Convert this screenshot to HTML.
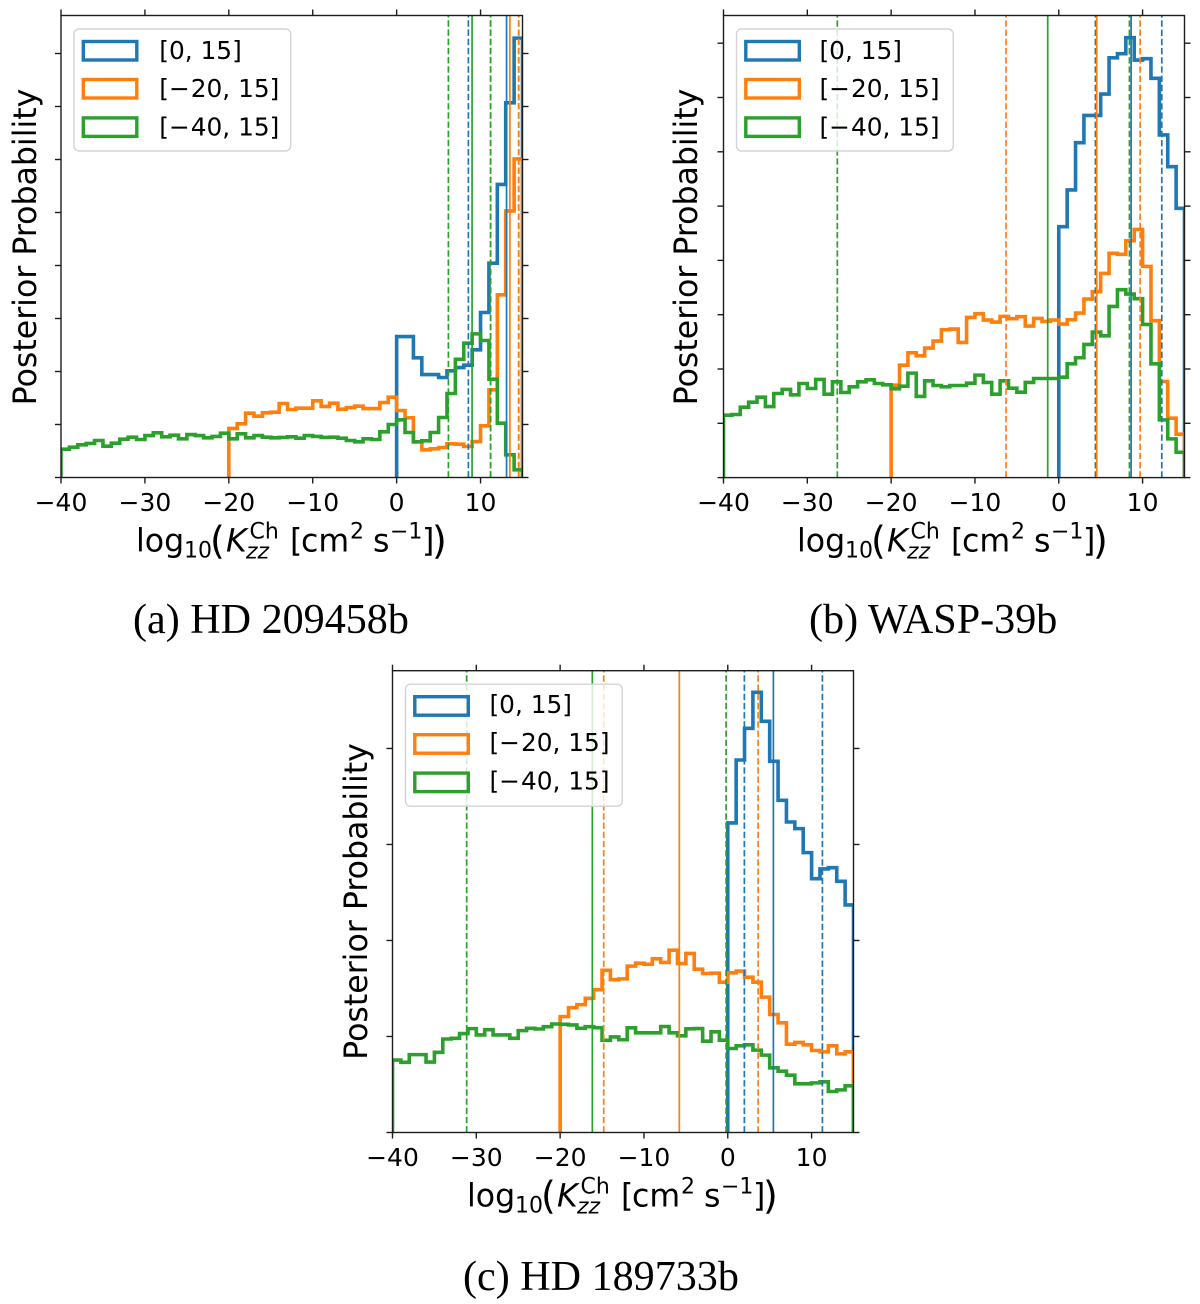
<!DOCTYPE html>
<html lang="en">
<head>
<meta charset="utf-8">
<title>Posterior probability of log10 Kzz for three exoplanets</title>
<style>
  html, body { margin: 0; padding: 0; background: #fff; }
  svg { display: block; }
  .tick-label, .legend-label, .axis-text { font-family: "DejaVu Sans", "Liberation Sans", sans-serif; fill: #000; }
  .tick-label { font-size: 25px; }
  .legend-label { font-size: 24.8px; }
  .axis-text { font-size: 31.6px; }
  .axis-small { font-size: 22px; }
  .axis-tall { font-size: 38px; font-weight: 400; }
  .caption { font-family: "Liberation Serif", serif; font-size: 42.1px; fill: #000; }
  .legend-box { fill: #fff; fill-opacity: 0.8; stroke: #d4d4d4; stroke-width: 1.4; }
  .legend-patch { fill: none; stroke-width: 3.4; }
</style>
</head>
<body>
<svg xmlns="http://www.w3.org/2000/svg" width="1200" height="1304" viewBox="0 0 1200 1304">
  <rect width="1200" height="1304" fill="#fff"/>

  <g>
    <g id="marks-a"></g>
    <text class="axis-text" transform="translate(36,247) rotate(-90)" text-anchor="middle">Posterior Probability</text>
    <g transform="translate(61,477.5)">
      <text class="axis-text" x="75" y="74">log</text><text class="axis-text axis-small" x="123" y="80">10</text><text class="axis-text axis-tall" x="149" y="76">(</text><text class="axis-text" x="165" y="74" font-style="italic">K</text><text class="axis-text axis-small" x="188.5" y="61">Ch</text><text class="axis-text axis-small" x="185" y="81" font-style="italic">zz</text><text class="axis-text" x="229" y="74">[</text><text class="axis-text" x="240" y="74">cm</text><text class="axis-text axis-small" x="289" y="61">2</text><text class="axis-text" x="312" y="74">s</text><text class="axis-text axis-small" x="329" y="61">−1</text><text class="axis-text" x="361" y="74">]</text><text class="axis-text axis-tall" x="371" y="76">)</text>
    </g>
    <g transform="translate(61,15.5)">
      <rect class="legend-box" x="13" y="13.5" width="216.7" height="122" rx="5"/>
      <rect class="legend-patch" x="22.3" y="26" width="53.5" height="18.5" stroke="#1f77b4"/>
      <text class="legend-label" x="98.3" y="43.3">[0, 15]</text>
      <rect class="legend-patch" x="22.3" y="64" width="53.5" height="18.5" stroke="#ff7f0e"/>
      <text class="legend-label" x="98.3" y="81.3">[−<tspan dx="1">20, 15]</tspan></text>
      <rect class="legend-patch" x="22.3" y="102.4" width="53.5" height="18.5" stroke="#2ca02c"/>
      <text class="legend-label" x="98.3" y="119.8">[−<tspan dx="1">40, 15]</tspan></text>
    </g>
    <text class="caption" x="133" y="633">(a) HD 209458b</text>
  </g>

  <g>
    <g id="marks-b"></g>
    <text class="axis-text" transform="translate(697,247) rotate(-90)" text-anchor="middle">Posterior Probability</text>
    <g transform="translate(722,477.5)">
      <text class="axis-text" x="75" y="74">log</text><text class="axis-text axis-small" x="123" y="80">10</text><text class="axis-text axis-tall" x="149" y="76">(</text><text class="axis-text" x="165" y="74" font-style="italic">K</text><text class="axis-text axis-small" x="188.5" y="61">Ch</text><text class="axis-text axis-small" x="185" y="81" font-style="italic">zz</text><text class="axis-text" x="229" y="74">[</text><text class="axis-text" x="240" y="74">cm</text><text class="axis-text axis-small" x="289" y="61">2</text><text class="axis-text" x="312" y="74">s</text><text class="axis-text axis-small" x="329" y="61">−1</text><text class="axis-text" x="361" y="74">]</text><text class="axis-text axis-tall" x="371" y="76">)</text>
    </g>
    <g transform="translate(723.5,15.5)">
      <rect class="legend-box" x="13" y="13.5" width="216.7" height="122" rx="5"/>
      <rect class="legend-patch" x="22.3" y="26" width="53.5" height="18.5" stroke="#1f77b4"/>
      <text class="legend-label" x="96" y="43.3">[0, 15]</text>
      <rect class="legend-patch" x="22.3" y="64" width="53.5" height="18.5" stroke="#ff7f0e"/>
      <text class="legend-label" x="96" y="81.3">[−<tspan dx="1">20, 15]</tspan></text>
      <rect class="legend-patch" x="22.3" y="102.4" width="53.5" height="18.5" stroke="#2ca02c"/>
      <text class="legend-label" x="96" y="119.8">[−<tspan dx="1">40, 15]</tspan></text>
    </g>
    <text class="caption" x="809" y="633">(b) WASP-39b</text>
  </g>

  <g>
    <g id="marks-c"></g>
    <text class="axis-text" transform="translate(367,901.5) rotate(-90)" text-anchor="middle">Posterior Probability</text>
    <g transform="translate(392,1132.5)">
      <text class="axis-text" x="75" y="74">log</text><text class="axis-text axis-small" x="123" y="80">10</text><text class="axis-text axis-tall" x="149" y="76">(</text><text class="axis-text" x="165" y="74" font-style="italic">K</text><text class="axis-text axis-small" x="188.5" y="61">Ch</text><text class="axis-text axis-small" x="185" y="81" font-style="italic">zz</text><text class="axis-text" x="229" y="74">[</text><text class="axis-text" x="240" y="74">cm</text><text class="axis-text axis-small" x="289" y="61">2</text><text class="axis-text" x="312" y="74">s</text><text class="axis-text axis-small" x="329" y="61">−1</text><text class="axis-text" x="361" y="74">]</text><text class="axis-text axis-tall" x="371" y="76">)</text>
    </g>
    <g transform="translate(392.5,670.7)">
      <rect class="legend-box" x="13" y="13.5" width="216.7" height="122" rx="5"/>
      <rect class="legend-patch" x="22.3" y="26" width="53.5" height="18.5" stroke="#1f77b4"/>
      <text class="legend-label" x="97" y="42.3">[0, 15]</text>
      <rect class="legend-patch" x="22.3" y="64" width="53.5" height="18.5" stroke="#ff7f0e"/>
      <text class="legend-label" x="97" y="80.3">[−<tspan dx="1">20, 15]</tspan></text>
      <rect class="legend-patch" x="22.3" y="102.4" width="53.5" height="18.5" stroke="#2ca02c"/>
      <text class="legend-label" x="97" y="118.8">[−<tspan dx="1">40, 15]</tspan></text>
    </g>
    <text class="caption" x="463" y="1290">(c) HD 189733b</text>
  </g>
</svg>

<script>
// X axis ticks, shared by all panels
const xTickValues = [-40, -30, -20, -10, 0, 10];
const xTickLabels = ["−40", "−30", "−20", "−10", "0", "10"];

// First bin edge of each prior range (bins are one dex wide)
const blueStart = 0;
const orangeStart = -20;
const greenStart = -40;

// Panel A: HD 209458b
const aBlue = [26.6,26.6,22.58,19.43,19.43,18.87,20.13,20.75,21.2,24.09,31.13,40.44,55.3,70.7,82.9];
const aOrange = [9.25,10.13,12.14,11.57,12.2,12.33,13.96,12.83,13.08,13.08,
  14.47,13.4,14.03,12.89,13.2,13.46,13.0,13.0,14.15,15.16,
  12.64,11.26,6.73,5.22,5.41,5.66,6.35,6.29,5.85,6.79,
  9.75,16.54,34.47,50.3,60.1];
const aGreen = [5.35,5.72,6.16,6.42,6.98,5.91,6.48,7.23,7.61,7.17,
  7.92,8.43,7.67,7.99,7.3,8.11,7.92,7.48,7.74,8.36,
  7.3,8.24,7.48,7.92,7.61,7.48,7.55,7.67,7.42,7.92,
  7.74,7.55,7.6,7.42,6.98,6.73,7.3,7.17,8.62,10.0,
  10.88,8.49,6.73,6.92,8.49,11.32,15.85,22.3,25.35,27.1,
  25.85,18.55,10.25,4.28,1.45];
// Quantile markers: [lower dashed, median solid, upper dashed]
const aBlueLines = [8.55, 13.1, 14.55];
const aOrangeLines = [11.2, 13.5, 14.55];
const aGreenLines = [6.17, 8.99, 11.2];
const aYTicks = [0, 10, 20, 30, 40, 50, 60, 70, 80];

// Panel B: WASP-39b
const bBlue = [46.2,52.97,61.68,66.7,66.7,70.63,77.3,78.07,81.02,76.9,77.15,73.53,63.1,57.26,49.59];
const bOrange = [17.02,20.71,22.99,22.43,23.85,25.14,27.23,27.35,24.89,29.5,
  30.18,29.01,28.64,29.69,29.26,29.63,27.9,29.32,28.76,29.01,
  28.27,29.07,30.3,32.88,34.23,37.61,41.3,41.12,43.6,45.7,
  38.9,28.89,17.7,10.94,7.99];
const bGreen = [11.49,11.62,12.97,13.89,14.81,13.09,15.49,16.23,15.24,17.33,
  16.41,18.07,15.37,17.64,15.67,16.72,17.64,18.01,17.33,17.09,
  16.35,16.84,19.24,14.94,17.82,16.96,16.72,16.96,16.96,17.39,
  18.87,17.52,15.37,17.82,16.47,15.73,17.52,18.25,18.25,18.25,
  18.5,20.96,22.07,24.52,26.8,26.12,31.53,34.6,33.8,32.94,
  28.21,20.96,10.63,7.13,4.67];
const bBlueLines = [4.37, 8.63, 12.29];
const bOrangeLines = [-6.29, 4.53, 9.71];
const bGreenLines = [-26.42, -1.32, 8.43];
const bYTicks = [0, 10, 20, 30, 40, 50, 60, 70, 80];

// Panel C: HD 189733b
const cBlue = [32.24,38.8,42.1,45.85,42.83,38.66,34.6,32.34,31.65,29.15,26.44,27.45,27.58,26.16,23.7];
const cOrange = [12.07,13.0,13.32,13.98,14.88,16.89,15.92,16.0,17.33,17.64,
  17.53,18.09,17.71,18.99,17.6,18.65,17.01,16.56,16.6,15.66,
  16.63,16.81,16.18,15.66,14.1,12.29,11.42,9.2,9.38,9.13,
  8.54,8.4,9.03,8.19,8.4];
const cGreen = [7.55,7.31,8.11,8.11,7.34,8.35,9.74,9.81,10.3,10.82,
  10.16,10.71,10.16,10.16,9.81,10.61,10.85,10.78,11.02,11.3,
  11.27,11.2,10.85,11.02,10.92,9.6,9.95,9.66,10.9,10.38,
  10.38,10.38,11.04,10.38,10.07,10.8,10.83,9.51,10.49,9.62,
  8.75,9.03,9.13,8.58,8.06,6.74,6.39,5.97,5.07,5.07,
  5.17,5.28,4.27,4.44,4.86];
const cBlueLines = [1.98, 5.44, 11.29];
const cOrangeLines = [-14.8, -5.78, 3.62];
const cGreenLines = [-31.15, -16.16, -0.2];
const cYTicks = [0, 10, 20, 30, 40];

const SVG_NS = "http://www.w3.org/2000/svg";
const BLUE = "#1f77b4";
const ORANGE = "#ff7f0e";
const GREEN = "#2ca02c";
const X_MIN = -40;
const X_MAX = 15;
const SPINE_COLOR = "#1c1c1c";

function svgEl(tag, parent) {
  const el = document.createElementNS(SVG_NS, tag);
  parent.appendChild(el);
  return el;
}

function drawPanel(key, box, yMax, series, yTicks) {
  const root = document.getElementById("marks-" + key);
  const xScale = function (v) { return box.left + (v - X_MIN) / (X_MAX - X_MIN) * (box.right - box.left); };
  const yScale = function (v) { return box.bottom - v / yMax * (box.bottom - box.top); };

  const defs = svgEl("defs", root);
  const clip = svgEl("clipPath", defs);
  clip.setAttribute("id", "clip-" + key);
  const clipRect = svgEl("rect", clip);
  clipRect.setAttribute("x", box.left);
  clipRect.setAttribute("y", box.top);
  clipRect.setAttribute("width", box.right - box.left);
  clipRect.setAttribute("height", box.bottom - box.top);

  const plot = svgEl("g", root);
  plot.setAttribute("clip-path", "url(#clip-" + key + ")");
  
  

  series.forEach(function (s) {
    let d = "M" + xScale(s.start) + " " + box.bottom;
    s.values.forEach(function (v, i) {
      d += "L" + xScale(s.start + i) + " " + yScale(v);
      d += "L" + xScale(s.start + i + 1) + " " + yScale(v);
    });
    d += "L" + xScale(s.start + s.values.length) + " " + box.bottom;
    const hist = svgEl("path", plot);
    hist.setAttribute("d", d);
    hist.setAttribute("fill", "none");
    hist.setAttribute("stroke", s.color);
    hist.setAttribute("stroke-width", "3.6");
    hist.setAttribute("stroke-linejoin", "miter");
    
    
  });

  series.forEach(function (s) {
    s.lines.forEach(function (v, i) {
      const line = svgEl("line", plot);
      line.setAttribute("x1", xScale(v));
      line.setAttribute("x2", xScale(v));
      line.setAttribute("y1", box.bottom);
      line.setAttribute("y2", box.top);
      line.setAttribute("stroke", s.color);
      line.setAttribute("stroke-width", "1.7");
      if (i !== 1) {
        line.setAttribute("stroke-dasharray", "6.4 2.8");
      }
      
      
    });
  });

  const axes = svgEl("g", root);
  
  

  xTickValues.forEach(function (v, i) {
    const x = xScale(v);
    const bottomTick = svgEl("line", axes);
    bottomTick.setAttribute("x1", x);
    bottomTick.setAttribute("x2", x);
    bottomTick.setAttribute("y1", box.bottom);
    bottomTick.setAttribute("y2", box.bottom + 6);
    bottomTick.setAttribute("stroke", SPINE_COLOR);
    bottomTick.setAttribute("stroke-width", "1.4");
    
    

    const topTick = svgEl("line", axes);
    topTick.setAttribute("x1", x);
    topTick.setAttribute("x2", x);
    topTick.setAttribute("y1", box.top);
    topTick.setAttribute("y2", box.top - 6);
    topTick.setAttribute("stroke", SPINE_COLOR);
    topTick.setAttribute("stroke-width", "1.4");
    
    

    const label = svgEl("text", axes);
    label.setAttribute("x", x);
    label.setAttribute("y", box.bottom + 33.5);
    label.setAttribute("text-anchor", "middle");
    label.setAttribute("class", "tick-label");
    
    
    label.textContent = xTickLabels[i];
  });

  yTicks.forEach(function (v) {
    const y = yScale(v);
    const leftTick = svgEl("line", axes);
    leftTick.setAttribute("x1", box.left);
    leftTick.setAttribute("x2", box.left - 6);
    leftTick.setAttribute("y1", y);
    leftTick.setAttribute("y2", y);
    leftTick.setAttribute("stroke", SPINE_COLOR);
    leftTick.setAttribute("stroke-width", "1.4");
    
    

    const rightTick = svgEl("line", axes);
    rightTick.setAttribute("x1", box.right);
    rightTick.setAttribute("x2", box.right + 6);
    rightTick.setAttribute("y1", y);
    rightTick.setAttribute("y2", y);
    rightTick.setAttribute("stroke", SPINE_COLOR);
    rightTick.setAttribute("stroke-width", "1.4");
    
    
  });

  const frame = svgEl("rect", axes);
  frame.setAttribute("x", box.left);
  frame.setAttribute("y", box.top);
  frame.setAttribute("width", box.right - box.left);
  frame.setAttribute("height", box.bottom - box.top);
  frame.setAttribute("fill", "none");
  frame.setAttribute("stroke", SPINE_COLOR);
  frame.setAttribute("stroke-width", "1.4");
  
  
}

drawPanel("a", { left: 61, right: 522.5, top: 15.5, bottom: 477.5 }, 87.17, [
  { name: "0-15", color: BLUE, start: blueStart, values: aBlue, lines: aBlueLines },
  { name: "20-15", color: ORANGE, start: orangeStart, values: aOrange, lines: aOrangeLines },
  { name: "40-15", color: GREEN, start: greenStart, values: aGreen, lines: aGreenLines }
], aYTicks);

drawPanel("b", { left: 723.5, right: 1184.5, top: 15.5, bottom: 477.6 }, 85.1, [
  { name: "0-15", color: BLUE, start: blueStart, values: bBlue, lines: bBlueLines },
  { name: "20-15", color: ORANGE, start: orangeStart, values: bOrange, lines: bOrangeLines },
  { name: "40-15", color: GREEN, start: greenStart, values: bGreen, lines: bGreenLines }
], bYTicks);

drawPanel("c", { left: 392.5, right: 853.5, top: 670.7, bottom: 1132.5 }, 48.1, [
  { name: "0-15", color: BLUE, start: blueStart, values: cBlue, lines: cBlueLines },
  { name: "20-15", color: ORANGE, start: orangeStart, values: cOrange, lines: cOrangeLines },
  { name: "40-15", color: GREEN, start: greenStart, values: cGreen, lines: cGreenLines }
], cYTicks);
</script>
</body>
</html>
